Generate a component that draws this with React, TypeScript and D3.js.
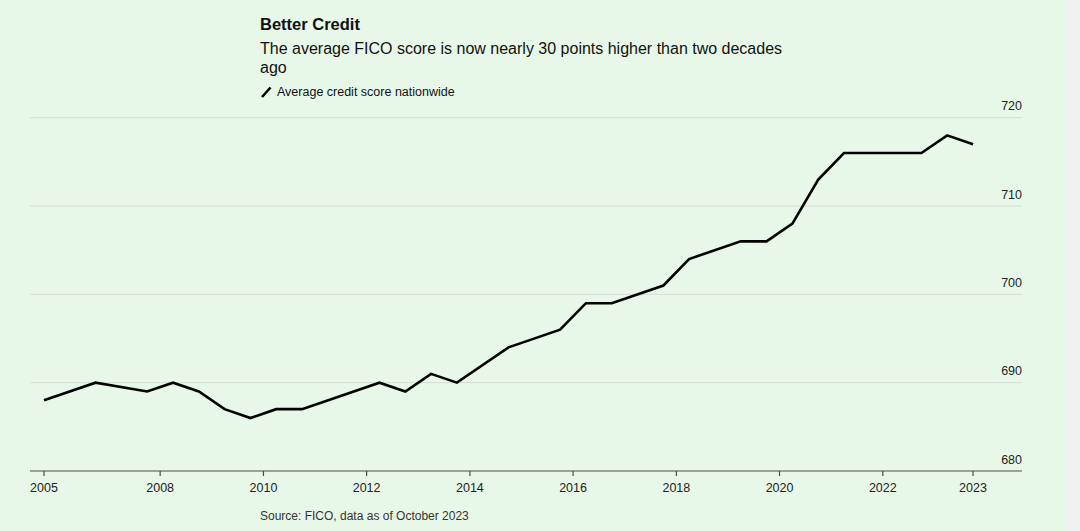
import * as d3 from 'd3';

// FICO average score, semiannual readings (only where the line bends)
const dates = [
  '2005-10-01', '2006-10-01', '2007-10-01', '2008-04-01', '2008-10-01',
  '2009-04-01', '2009-10-01', '2010-04-01', '2010-10-01', '2012-04-01',
  '2012-10-01', '2013-04-01', '2013-10-01', '2014-10-01', '2015-10-01',
  '2016-04-01', '2016-10-01', '2017-10-01', '2018-04-01', '2019-04-01',
  '2019-10-01', '2020-04-01', '2020-10-01', '2021-04-01', '2022-10-01',
  '2023-04-01', '2023-10-01',
];
const scores = [
  688, 690, 689, 690, 689,
  687, 686, 687, 687, 690,
  689, 691, 690, 694, 696,
  699, 699, 701, 704, 706,
  706, 708, 713, 716, 716,
  718, 717,
];

const xTickDates = [
  '2005-10-01', '2008-01-01', '2010-01-01', '2012-01-01', '2014-01-01',
  '2016-01-01', '2018-01-01', '2020-01-01', '2022-01-01', '2023-10-01',
];
const xTickLabels = ['2005', '2008', '2010', '2012', '2014', '2016', '2018', '2020', '2022', '2023'];
const yTicks = [680, 690, 700, 710, 720];

const W = 1080;
const H = 531;
const font = '"Liberation Sans", Arial, sans-serif';

export default function App() {
  const parse = d3.timeParse('%Y-%m-%d');
  const points = dates.map((d, i) => ({ date: parse(d)!, value: scores[i] }));

  const x = d3
    .scaleTime()
    .domain([parse('2005-10-01')!, parse('2023-10-01')!])
    .range([44, 973]);

  const y = d3.scaleLinear().domain([680, 720]).range([471, 117.7]);

  const line = d3
    .line<(typeof points)[0]>()
    .x(d => x(d.date))
    .y(d => y(d.value));

  const gridLeft = 30;
  const gridRight = 1022;

  return (
    <svg width={W} height={H} style={{ display: 'block' }}>
      <style>{`body{margin:0}`}</style>
      <rect x={0} y={0} width={W} height={H} fill="#f1f1f1" />
      <rect x={0} y={0} width={1065} height={H} fill="#e8f8e8" />

      {/* header */}
      <text x={260} y={30} fontFamily={font} fontSize={16.5} fontWeight={700} fill="#111">
        Better Credit
      </text>
      <text x={260} y={53.5} fontFamily={font} fontSize={16} fill="#111">
        The average FICO score is now nearly 30 points higher than two decades
      </text>
      <text x={260} y={72.5} fontFamily={font} fontSize={16} fill="#111">
        ago
      </text>
      <line x1={262} y1={97} x2={270.5} y2={87.5} stroke="#000" strokeWidth={2.6} />
      <text x={277} y={95.5} fontFamily={font} fontSize={12.5} fill="#111">
        Average credit score nationwide
      </text>

      {/* y grid + labels */}
      {yTicks.map(t => (
        <g key={t}>
          {t !== 680 && (
            <line x1={gridLeft} x2={gridRight} y1={y(t)} y2={y(t)} stroke="#d6ddd6" strokeWidth={1} />
          )}
          <text
            x={gridRight}
            y={y(t) - 7.5}
            textAnchor="end"
            fontFamily={font}
            fontSize={12.5}
            fill="#222"
          >
            {t}
          </text>
        </g>
      ))}

      {/* x axis */}
      <line x1={gridLeft} x2={gridRight} y1={y(680)} y2={y(680)} stroke="#4a4a4a" strokeWidth={1.2} />
      {xTickDates.map((d, i) => {
        const px = x(parse(d)!);
        return (
          <g key={d}>
            <line x1={px} x2={px} y1={y(680)} y2={y(680) + 5} stroke="#4a4a4a" strokeWidth={1.2} />
            <text x={px} y={y(680) + 21} textAnchor="middle" fontFamily={font} fontSize={12.5} fill="#222">
              {xTickLabels[i]}
            </text>
          </g>
        );
      })}

      {/* series */}
      <path d={line(points) ?? ''} fill="none" stroke="#000" strokeWidth={2.6} strokeLinejoin="miter" />

      <text x={260} y={520} fontFamily={font} fontSize={12} fill="#333">
        Source: FICO, data as of October 2023
      </text>
    </svg>
  );
}
